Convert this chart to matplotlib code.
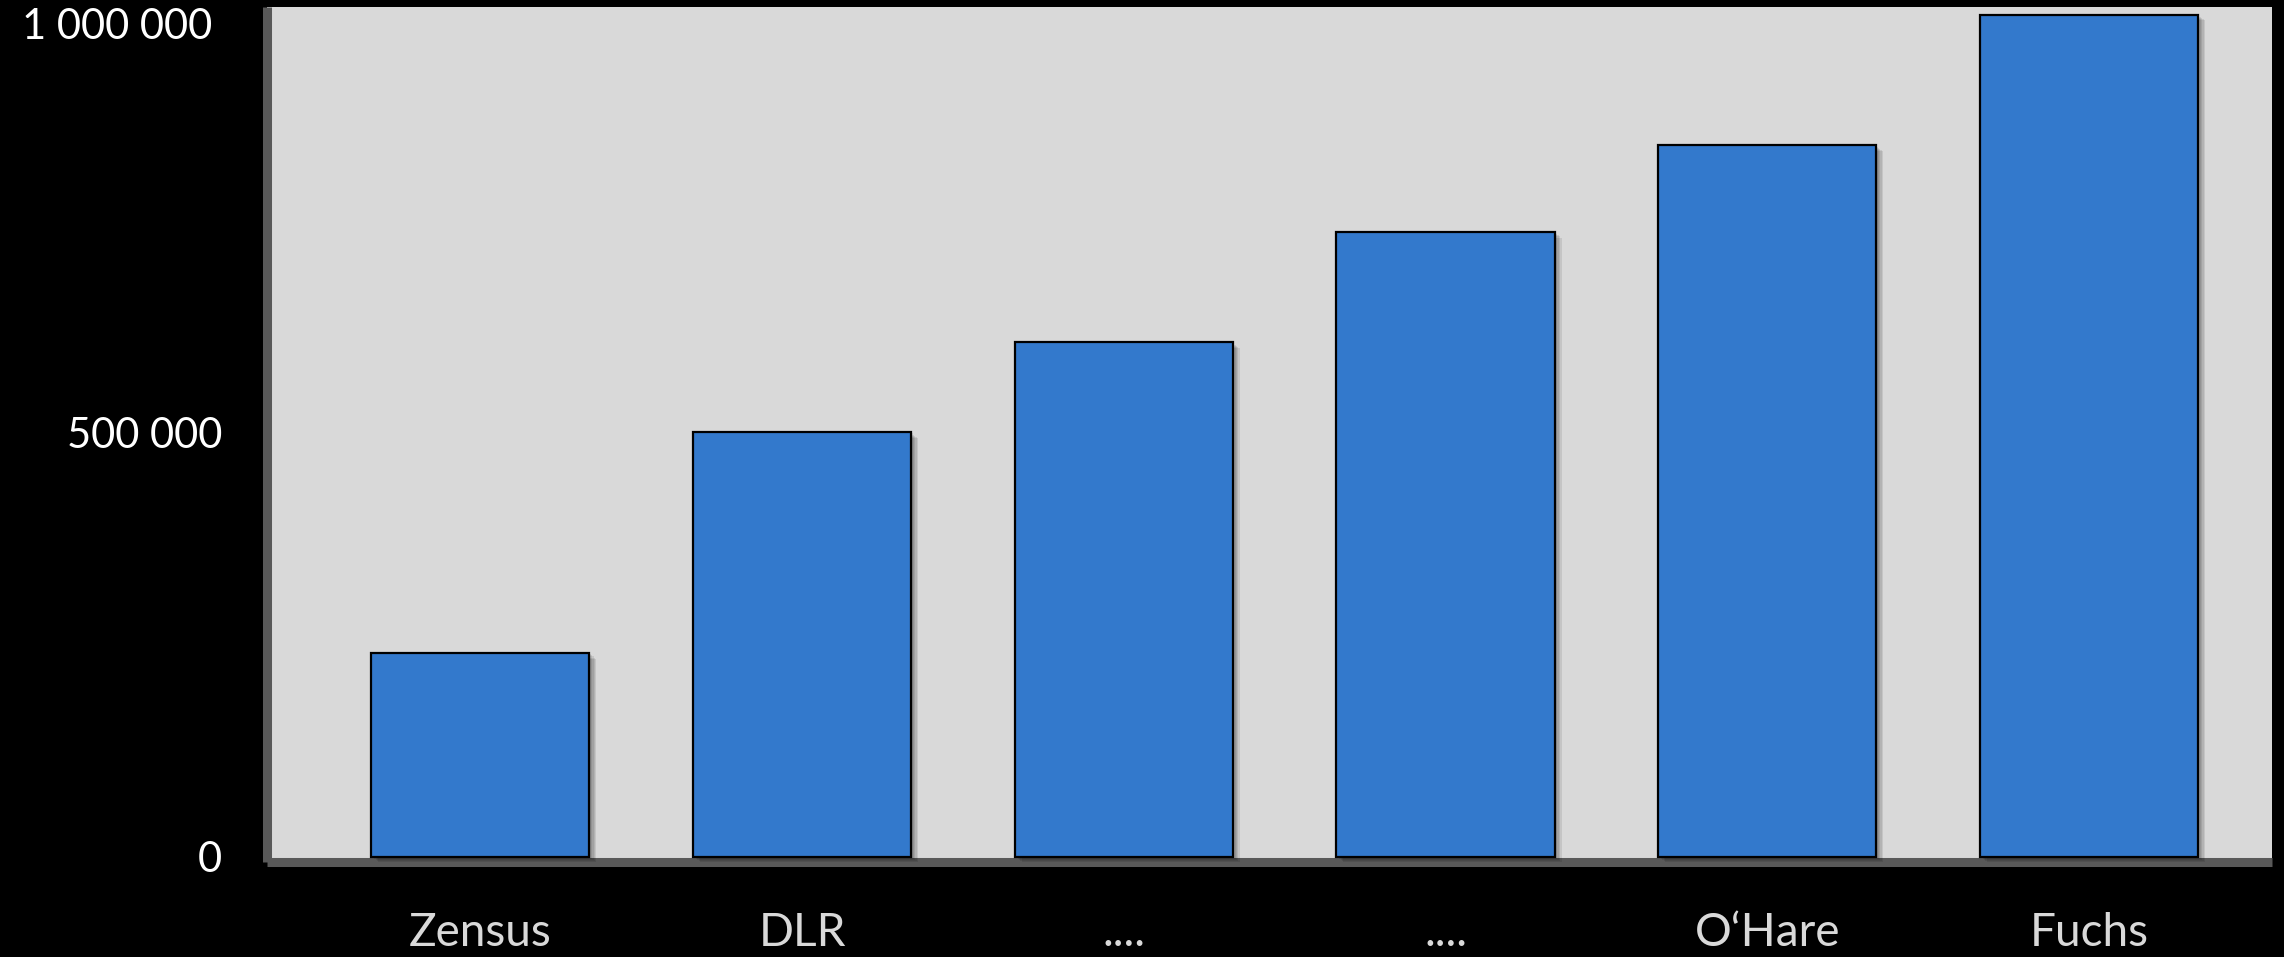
import matplotlib.pyplot as plt
import matplotlib.patheffects as pe
import matplotlib.transforms as mtransforms
import numpy as np

# categories and bar heights
labels = ["Zensus", "DLR", "....", "....", "O\u2018Hare", "Fuchs"]
values = [240000, 500000, 606000, 736000, 838000, 992000]
yticks = [0, 500000, 1000000]
ytick_labels = ["0", "500 000", "1 000 000"]

plt.rcParams['font.family'] = ['Lato', 'DejaVu Sans']

W, H = 2284, 957
fig = plt.figure(figsize=(W / 100, H / 100), dpi=100, facecolor="black")
ax = fig.add_axes([266.5 / W, (H - 862) / H, (2272 - 266.5) / W, (862 - 7) / H])
ax.set_facecolor("#d9d9d9")

# soft drop shadow: a few stacked faint offsets
shadow = [pe.SimplePatchShadow(offset=(d, -d * 0.8), shadow_rgbFace="black", alpha=0.09)
          for d in (1, 2, 3, 4, 5)]

x = np.arange(len(labels))
bars = ax.bar(x, values, width=0.678, color="#3379cc", edgecolor="black", linewidth=1.6, zorder=3)
for b in bars:
    b.set_path_effects(shadow + [pe.Normal()])

ax.set_xlim(-0.665, 5.569)
ax.set_ylim(-6000, 1001000)

ax.set_xticks(x)
ax.set_xticklabels(labels, fontsize=33, color="#d9d9d9")
ax.set_yticks(yticks)
ax.set_yticklabels(ytick_labels, fontsize=30, color="white")
ax.tick_params(axis="both", length=0)
ax.tick_params(axis="y", pad=32)
ax.tick_params(axis="x", pad=36)

top = ax.get_yticklabels()[-1]
top.set_verticalalignment("top")
top.set_transform(top.get_transform() + mtransforms.ScaledTranslation(-10 / 100, 0, fig.dpi_scale_trans))

for side in ["top", "right"]:
    ax.spines[side].set_visible(False)
for side in ["left", "bottom"]:
    ax.spines[side].set_color("#595959")
    ax.spines[side].set_linewidth(6.5)
    ax.spines[side].set_capstyle("butt")

fig.savefig("out.png", dpi=100, facecolor="black")
